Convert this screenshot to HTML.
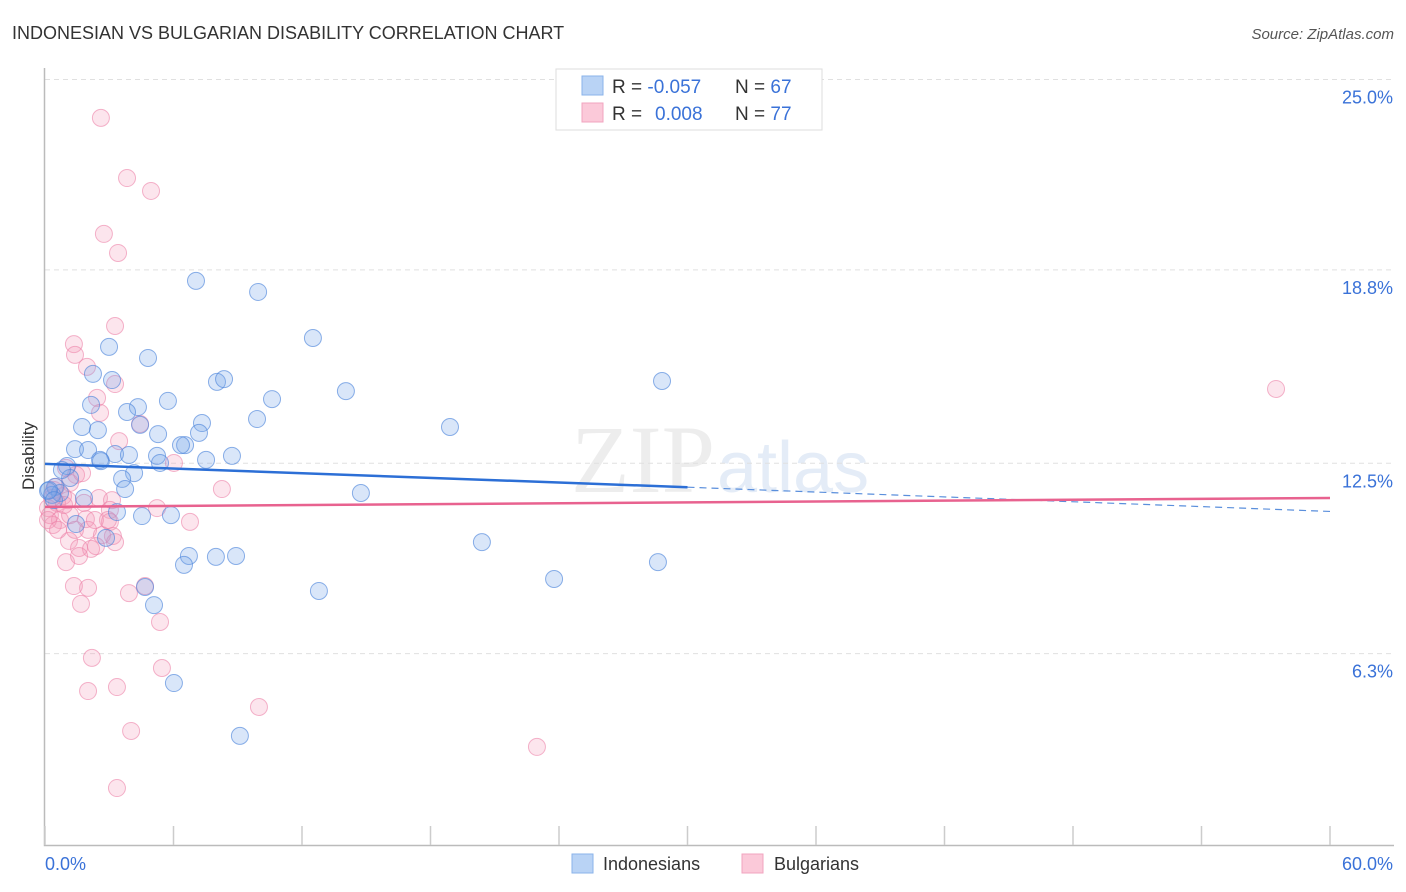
<!DOCTYPE html>
<html><head><meta charset="utf-8"><style>
body{margin:0;background:#fff;font-family:"Liberation Sans",sans-serif;}
svg{display:block}
</style></head><body>
<svg width="1406" height="892" id="c">
<text x="12" y="39" font-size="18" fill="#333">INDONESIAN VS BULGARIAN DISABILITY CORRELATION CHART</text>
<text x="1394" y="39" font-size="15" fill="#555" font-style="italic" text-anchor="end">Source: ZipAtlas.com</text>
<text x="0" y="0" transform="translate(34,456) rotate(-90)" font-size="17" fill="#333" text-anchor="middle">Disability</text>
<text x="715" y="492" font-size="96" fill="#e2e2e2" font-family="Liberation Serif,serif" text-anchor="end" opacity="0.6">ZIP</text>
<text x="717" y="492" font-size="72" fill="#d3e0f2" opacity="0.6">atlas</text>
<g id="grid"></g><g id="pts"></g><g id="trend"></g>
<rect x="556" y="69" width="266" height="61" fill="#fff" stroke="#ddd"/>
<rect x="582" y="76" width="21" height="19" fill="#b9d3f5" stroke="#8ab3ea"/>
<rect x="582" y="103" width="21" height="19" fill="#fbc9d9" stroke="#f2a4bf"/>
<text x="612" y="93" font-size="19" fill="#333">R = <tspan fill="#3a72d8">-0.057</tspan><tspan x="735">N = </tspan><tspan fill="#3a72d8">67</tspan></text>
<text x="612" y="120" font-size="19" fill="#333">R = <tspan fill="#3a72d8" x="655">0.008</tspan><tspan x="735">N = </tspan><tspan fill="#3a72d8">77</tspan></text>
<text x="45" y="870" font-size="18" fill="#3a72d8">0.0%</text>
<text x="1393" y="870" font-size="18" fill="#3a72d8" text-anchor="end">60.0%</text>
<rect x="572" y="854" width="21" height="19" fill="#b9d3f5" stroke="#8ab3ea"/>
<text x="603" y="870" font-size="18" fill="#333">Indonesians</text>
<rect x="742" y="854" width="21" height="19" fill="#fbc9d9" stroke="#f2a4bf"/>
<text x="774" y="870" font-size="18" fill="#333">Bulgarians</text>
</svg>
<script>
const yTicks=[25,18.8,12.5,6.3];
const yTickLabels=["25.0%","18.8%","12.5%","6.3%"];
const xTicks=[0,6,12,18,24,30,36,42,48,54,60];
const indoX=[7.05,9.95,12.51,2.99,4.81,2.24,3.13,8.03,8.36,14.05,28.81,5.74,10.60,2.15,4.34,3.83,9.90,7.33,4.44,18.91,1.73,2.47,5.28,7.19,6.54,1.40,2.01,6.35,8.73,7.52,3.27,3.92,2.61,5.23,5.37,1.03,4.16,3.60,1.17,3.74,14.75,0.47,0.70,1.82,0.33,0.14,3.36,4.53,5.88,1.45,2.85,20.40,6.72,7.98,8.92,6.49,23.77,28.62,4.67,12.79,5.09,6.02,9.10,0.19,0.79,0.42,2.57];
const indoY=[18.44,18.08,16.58,16.29,15.93,15.41,15.21,15.15,15.24,14.85,15.18,14.53,14.59,14.40,14.33,14.17,13.94,13.81,13.75,13.68,13.68,13.58,13.45,13.49,13.09,12.96,12.93,13.09,12.74,12.61,12.80,12.77,12.57,12.74,12.51,12.41,12.18,11.99,12.02,11.66,11.53,11.73,11.53,11.37,11.47,11.60,10.91,10.78,10.81,10.52,10.07,9.93,9.48,9.45,9.48,9.19,8.73,9.28,8.47,8.34,7.88,5.34,3.62,11.63,12.28,11.30,12.61];
const bulgX=[2.61,3.83,4.95,2.75,3.41,3.27,1.35,1.40,1.96,3.27,2.43,2.57,4.44,3.46,6.02,0.98,1.45,1.17,1.73,0.42,0.84,0.56,0.14,0.23,0.70,0.37,1.17,1.91,2.52,3.13,1.82,3.03,8.26,5.23,6.77,3.03,2.01,3.17,2.66,1.12,1.59,2.15,2.38,3.27,0.98,1.59,1.35,2.01,1.68,3.92,4.67,5.37,5.46,2.19,2.01,3.36,9.99,4.02,3.36,22.97,57.48,0.14,0.61,0.89,1.40,2.94,2.33,0.51,1.07,0.33];
const bulgY=[23.75,21.79,21.37,19.97,19.35,16.97,16.38,16.03,15.64,15.08,14.63,14.14,13.78,13.22,12.51,12.35,12.12,11.86,12.18,11.63,11.43,11.21,11.04,10.81,10.65,10.49,10.81,10.68,11.37,11.30,11.21,10.98,11.66,11.04,10.59,10.59,10.33,10.13,10.16,9.97,9.74,9.71,9.80,9.93,9.28,9.48,8.50,8.44,7.92,8.27,8.50,7.33,5.83,6.16,5.08,5.21,4.56,3.78,1.92,3.26,14.92,10.65,10.33,11.14,10.33,10.65,10.65,11.73,11.30,11.37];
const indoTrend=[12.48,11.72,10.93]; // at x=0,30,60
const bulgTrend=[11.08,11.37]; // at x=0,60
const NS="http://www.w3.org/2000/svg";
const X=v=>45+v*(1285/60), Y=v=>847-v*30.7;
function mk(tag,attrs,parent){const e=document.createElementNS(NS,tag);for(const k in attrs)e.setAttribute(k,attrs[k]);parent.appendChild(e);return e;}
const grid=document.getElementById('grid');
yTicks.forEach((t,i)=>{
 const l=mk('line',{x1:45,x2:1394,y1:Y(t),y2:Y(t),stroke:'#e0e0e0','stroke-dasharray':'5,4'},grid);
 
 
 const tx=mk('text',{x:1393,y:Y(t)+24,'font-size':18,fill:'#3a72d8','text-anchor':'end'},grid);
 tx.textContent=yTickLabels[i];
 
 
});
const ax=mk('path',{d:'M44.5 68 V845.5 H1394',stroke:'#bbb',fill:'none','stroke-width':1.5},grid);


xTicks.forEach(t=>{
 const l=mk('line',{x1:X(t),x2:X(t),y1:826,y2:845,stroke:'#ccc','stroke-width':1.5},grid);
 
 
});
const pts=document.getElementById('pts');
bulgX.forEach((v,i)=>{
 const c=mk('circle',{cx:X(v),cy:Y(bulgY[i]),r:8.5,fill:'rgba(244,150,182,0.25)',stroke:'rgba(236,130,168,0.6)','stroke-width':1},pts);
 
 
});
indoX.forEach((v,i)=>{
 const c=mk('circle',{cx:X(v),cy:Y(indoY[i]),r:8.5,fill:'rgba(120,165,232,0.28)',stroke:'rgba(80,135,220,0.65)','stroke-width':1},pts);
 
 
});
const tr=document.getElementById('trend');
let l=mk('line',{x1:X(0),y1:Y(indoTrend[0]),x2:X(30),y2:Y(indoTrend[1]),stroke:'#2c6fd6','stroke-width':2.5},tr);


l=mk('line',{x1:X(30),y1:Y(indoTrend[1]),x2:X(60),y2:Y(indoTrend[2]),stroke:'#5a8fdc','stroke-width':1.2,'stroke-dasharray':'7,5'},tr);


l=mk('line',{x1:X(0),y1:Y(bulgTrend[0]),x2:X(60),y2:Y(bulgTrend[1]),stroke:'#e8628f','stroke-width':2.5},tr);


</script>
</body></html>
